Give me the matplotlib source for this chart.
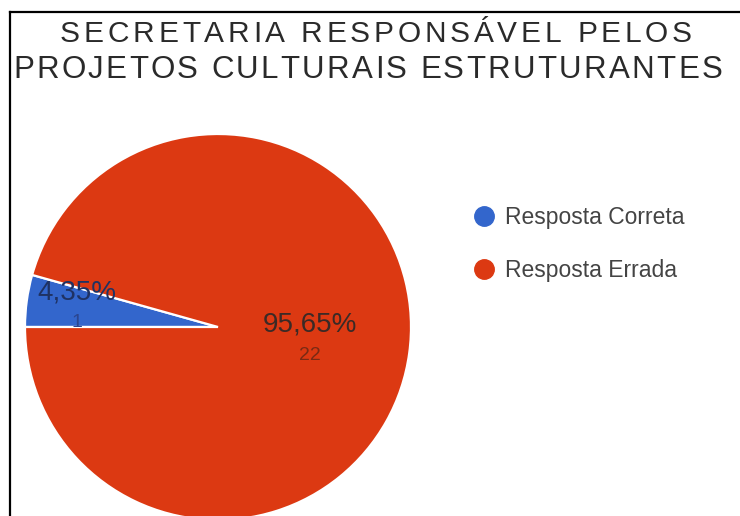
import matplotlib
matplotlib.use("Agg")
from matplotlib import pyplot as plt
from matplotlib.lines import Line2D
from matplotlib.font_manager import FontProperties, findfont
from matplotlib.ft2font import FT2Font
import numpy as np

plt.rcParams['font.family'] = ['Liberation Sans', 'DejaVu Sans']

title_lines = ['SECRETARIA RESPONSÁVEL PELOS', 'PROJETOS CULTURAIS ESTRUTURANTES']
categories = ['Resposta Correta', 'Resposta Errada']
counts = [1, 22]
colors = ['#3366CC', '#DC3912']

W, H = 740, 516
fig = plt.figure(figsize=(W / 100, H / 100), dpi=100)


def spaced_text(s, x0, x1, y, size, color):
    """Write s letter by letter so that it runs from x0 to x1 (pixels)."""
    prop = FontProperties(family='Liberation Sans', size=size)
    font = FT2Font(findfont(prop))
    font.set_size(size, 100)
    adv = [font.load_char(ord(ch)).linearHoriAdvance / 65536 for ch in s]
    gap = (x1 - x0 - sum(adv)) / (len(s) - 1)
    x = x0
    for ch, a in zip(s, adv):
        fig.text(x / W, 1 - y / H, ch, fontproperties=prop, color=color,
                 ha='left', va='baseline')
        x += a + gap


# pie axes: centre (218, 327) px, radius 193 px
cx, cy, r = 218, 327, 193
ax = fig.add_axes([(cx - r) / W, (H - cy - r) / H, 2 * r / W, 2 * r / H])
wedges, _ = ax.pie(counts, colors=colors, startangle=180, counterclock=False,
                   wedgeprops=dict(edgecolor='white', linewidth=1.6))
ax.set_xlim(-1, 1)
ax.set_ylim(-1, 1)
ax.set_aspect('equal')
ax.axis('off')

total = sum(counts)
label_dist = [0.74, 0.48]
pct_colors = ['#1f3263', '#3b2a26']
num_colors = ['#2b4690', '#7a2a14']
for w, n, d, pc, nc in zip(wedges, counts, label_dist, pct_colors, num_colors):
    mid = np.deg2rad((w.theta1 + w.theta2) / 2)
    x, y = d * np.cos(mid), d * np.sin(mid)
    pct = f"{n / total * 100:.2f}%".replace('.', ',')
    ax.text(x, y + 0.08, pct, ha='center', va='center', fontsize=20, color=pc)
    ax.text(x, y - 0.08, str(n), ha='center', va='center', fontsize=14, color=nc)

# title, two lines with wide letter spacing
spaced_text(title_lines[0], 60, 692, 42, 21.5, '#2a2a2a')
spaced_text(title_lines[1], 13, 722, 78.5, 22.5, '#2a2a2a')

# legend
handles = [Line2D([], [], marker='o', linestyle='none', markersize=14,
                  markerfacecolor=c, markeredgecolor=c) for c in colors]
fig.legend(handles, categories, loc='upper left', bbox_to_anchor=(459 / W, 1 - 195 / H),
           frameon=False, fontsize=16.5, labelcolor='#444444', handletextpad=0.3,
           labelspacing=1.3, borderpad=0, handlelength=1.2)

# frame lines
fig.add_artist(Line2D([10 / W, 1], [1 - 12 / H, 1 - 12 / H], color='black', linewidth=1.6))
fig.add_artist(Line2D([10 / W, 10 / W], [0, 1 - 12 / H], color='black', linewidth=1.6))

fig.savefig('out.png', dpi=100, facecolor='white')
